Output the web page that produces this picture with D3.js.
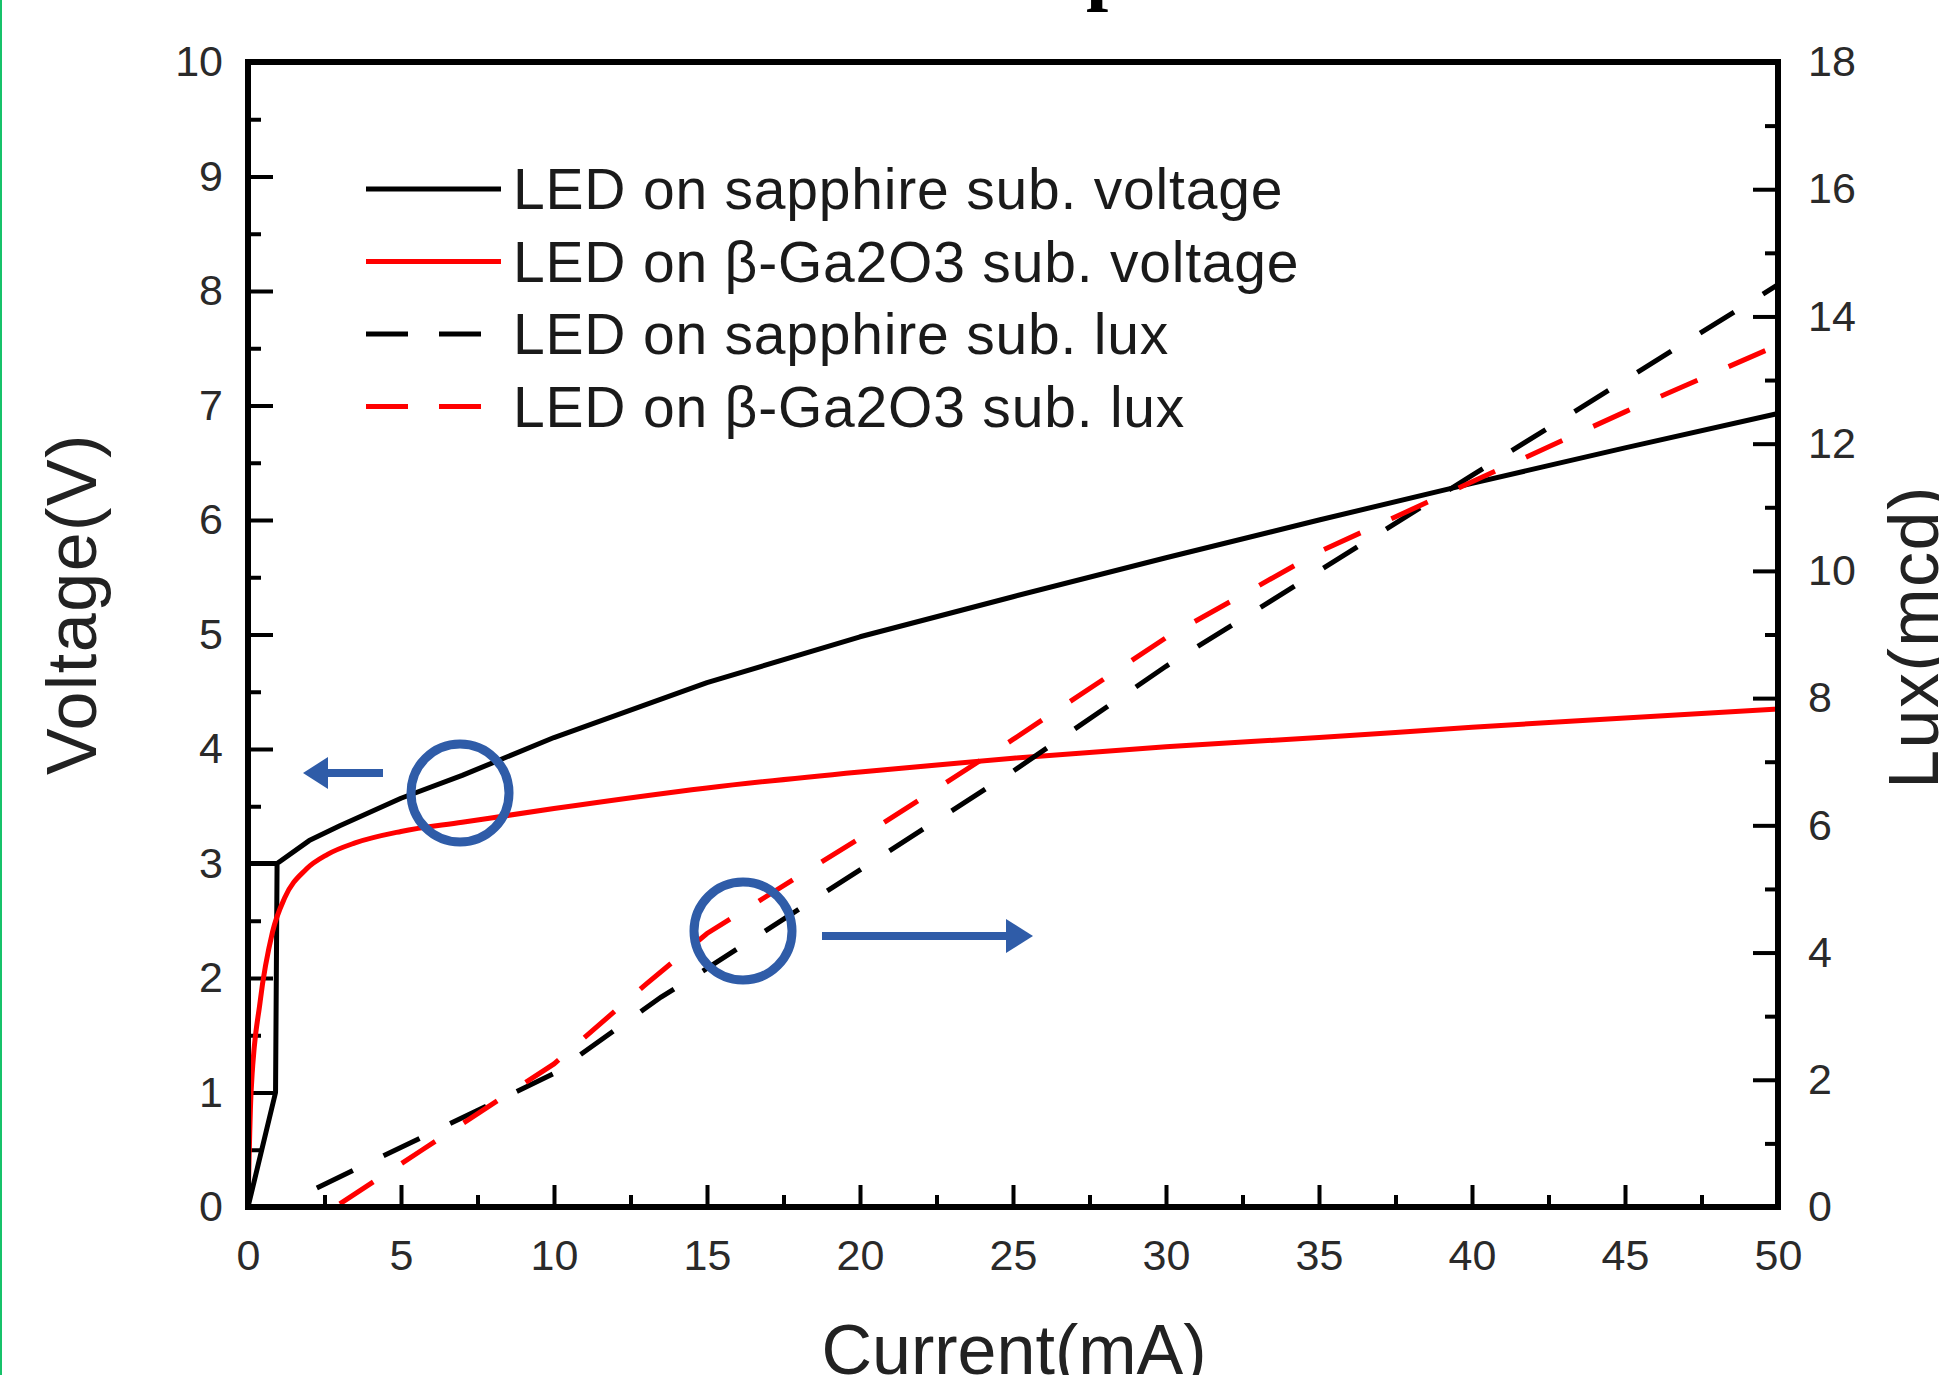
<!DOCTYPE html>
<html><head><meta charset="utf-8">
<script src="https://cdn.jsdelivr.net/npm/d3@7"></script>
<style>html,body{margin:0;padding:0;background:#fff;overflow:hidden}</style>
</head><body>
<svg id="chart" width="1939" height="1375"></svg>
<script>
// ---- data ----
const sapphireVoltageI = [0, 0.9, 0.95, 2, 3, 5, 7, 10, 15, 20, 25, 30, 35, 40, 45, 50];
const sapphireVoltageV = [0, 1.0, 3.0, 3.2, 3.33, 3.57, 3.77, 4.1, 4.58, 4.98, 5.33, 5.67, 6.0, 6.32, 6.63, 6.93];
const sapphireKneeI = [0, 0.95];
const sapphireKneeV = [3.0, 3.0];
const gaVoltageI = [0, 0.1, 0.4, 0.8, 1.2, 1.9, 2.6, 3.5, 5, 7, 10, 15, 20, 25, 30, 35, 40, 45, 50];
const gaVoltageV = [0, 1.0, 1.8, 2.4, 2.7, 2.95, 3.08, 3.18, 3.28, 3.36, 3.48, 3.66, 3.8, 3.92, 4.02, 4.1, 4.19, 4.27, 4.35];
const sapphireLuxI = [2.25, 5.7, 10, 13.5, 15, 20, 25, 30, 35, 40, 45, 50];
const sapphireLuxL = [0.3, 1.1, 2.1, 3.3, 3.75, 5.3, 6.85, 8.5, 10.0, 11.5, 13.0, 14.5];
const gaLuxI = [3.0, 5.7, 10, 13, 15, 20, 25, 30, 35, 40, 45, 50];
const gaLuxL = [0.05, 0.9, 2.25, 3.5, 4.3, 5.8, 7.35, 8.95, 10.3, 11.4, 12.5, 13.55];
const xTicks = [0, 5, 10, 15, 20, 25, 30, 35, 40, 45, 50];
const yLeftTicks = [0, 1, 2, 3, 4, 5, 6, 7, 8, 9, 10];
const yRightTicks = [0, 2, 4, 6, 8, 10, 12, 14, 16, 18];
const legendLabels = ["LED on sapphire sub. voltage", "LED on \u03b2-Ga2O3 sub. voltage", "LED on sapphire sub. lux", "LED on \u03b2-Ga2O3 sub. lux"];
const legendColors = ["#000", "#ff0000", "#000", "#ff0000"];
const legendDashed = [false, false, true, true];

// ---- layout ----
const L = 248, R = 1778, T = 62, B = 1207;
const svg = d3.select("#chart");
const x = d3.scaleLinear().domain([0, 50]).range([L, R]);
const yL = d3.scaleLinear().domain([0, 10]).range([B, T]);
const yR = d3.scaleLinear().domain([0, 18]).range([B, T]);
const FONT = "'Liberation Sans', Arial, sans-serif";

svg.append("rect").attr("x", 0).attr("y", 0).attr("width", 2).attr("height", 1375).attr("fill", "#17c26a");

// partial title glyph at top
svg.append("text").attr("x", 1086).attr("y", -5).attr("font-family", "'Liberation Serif', 'Times New Roman', serif")
  .attr("font-weight", "bold").attr("font-size", 80).attr("fill", "#000").text("p");

function styleAxis(g, fs) {
  g.select(".domain").remove();
  g.selectAll(".tick line").attr("stroke", "#000").attr("stroke-width", 4);
  g.selectAll(".tick text").attr("font-family", FONT).attr("font-size", fs).attr("fill", "#2a2a2a");
}
// left axis
const gl = svg.append("g").attr("transform", `translate(${L},0)`)
  .call(d3.axisLeft(yL).tickValues(yLeftTicks).tickSize(-25).tickPadding(25).tickFormat(d3.format("d")));
styleAxis(gl, 43);
const glm = svg.append("g").attr("transform", `translate(${L},0)`)
  .call(d3.axisLeft(yL).tickValues(d3.range(0.5, 10, 1)).tickSize(-13).tickFormat(""));
styleAxis(glm, 43);
// right axis
const gr = svg.append("g").attr("transform", `translate(${R},0)`)
  .call(d3.axisRight(yR).tickValues(yRightTicks).tickSize(-25).tickPadding(30).tickFormat(d3.format("d")));
styleAxis(gr, 43);
const grm = svg.append("g").attr("transform", `translate(${R},0)`)
  .call(d3.axisRight(yR).tickValues(d3.range(1, 18, 2)).tickSize(-13).tickFormat(""));
styleAxis(grm, 43);
// bottom axis
const gb = svg.append("g").attr("transform", `translate(0,${B})`)
  .call(d3.axisBottom(x).tickValues(xTicks).tickSize(-22).tickPadding(32).tickFormat(d3.format("d")));
styleAxis(gb, 43);
const gbm = svg.append("g").attr("transform", `translate(0,${B})`)
  .call(d3.axisBottom(x).tickValues(d3.range(2.5, 50, 5)).tickSize(-12).tickFormat(""));
styleAxis(gbm, 43);

// axis titles
svg.append("text").attr("transform", `translate(72,604) rotate(-90)`).attr("text-anchor", "middle")
  .attr("dominant-baseline", "central").attr("font-family", FONT).attr("font-size", 70).attr("letter-spacing", 1.5)
  .attr("fill", "#222").text("Voltage(V)");
svg.append("text").attr("transform", `translate(1914,637) rotate(-90)`).attr("text-anchor", "middle")
  .attr("dominant-baseline", "central").attr("font-family", FONT).attr("font-size", 70).attr("letter-spacing", 1.5)
  .attr("fill", "#222").text("Lux(mcd)");
svg.append("text").attr("x", 1014).attr("y", 1374).attr("text-anchor", "middle")
  .attr("font-family", FONT).attr("font-size", 70).attr("fill", "#222").text("Current(mA)");

// lines
const lineL = d3.line().x(d => x(d[0])).y(d => yL(d[1]));
const lineR = d3.line().x(d => x(d[0])).y(d => yR(d[1]));
const zip = (a, b) => a.map((v, i) => [v, b[i]]);
const plot = svg.append("g");
plot.append("path").datum(zip(sapphireKneeI, sapphireKneeV)).attr("d", lineL)
  .attr("fill", "none").attr("stroke", "#000").attr("stroke-width", 5);
plot.append("path").datum(zip(sapphireVoltageI, sapphireVoltageV)).attr("d", lineL)
  .attr("fill", "none").attr("stroke", "#000").attr("stroke-width", 5).attr("stroke-linejoin", "round");
plot.append("path").datum(zip(gaVoltageI, gaVoltageV)).attr("d", d3.line().curve(d3.curveMonotoneX).x(d => x(d[0])).y(d => yL(d[1])))
  .attr("fill", "none").attr("stroke", "#ff0000").attr("stroke-width", 5);
plot.append("path").datum(zip(sapphireLuxI, sapphireLuxL)).attr("d", lineR)
  .attr("fill", "none").attr("stroke", "#000").attr("stroke-width", 5).attr("stroke-dasharray", "40,34");
plot.append("path").datum(zip(gaLuxI, gaLuxL)).attr("d", lineR)
  .attr("fill", "none").attr("stroke", "#ff0000").attr("stroke-width", 5).attr("stroke-dasharray", "40,34");

// frame
svg.append("rect").attr("x", L).attr("y", T).attr("width", R - L).attr("height", B - T)
  .attr("fill", "none").attr("stroke", "#000").attr("stroke-width", 6);

// legend
const leg = svg.append("g");
legendLabels.forEach((lab, i) => {
  const yy = 189 + i * 72.5;
  leg.append("line").attr("x1", 366).attr("x2", legendDashed[i] ? 481 : 501).attr("y1", yy).attr("y2", yy)
    .attr("stroke", legendColors[i]).attr("stroke-width", 5).attr("stroke-dasharray", legendDashed[i] ? "42,31" : null);
  leg.append("text").attr("x", 513).attr("y", yy).attr("dominant-baseline", "central")
    .attr("font-family", FONT).attr("font-size", 57).attr("letter-spacing", 0.8).attr("fill", "#1a1a1a").text(lab);
});

// annotations
const blue = "#2f5ca8";
svg.append("circle").attr("cx", 460).attr("cy", 793).attr("r", 49).attr("fill", "none").attr("stroke", blue).attr("stroke-width", 9);
svg.append("circle").attr("cx", 743).attr("cy", 931).attr("r", 49).attr("fill", "none").attr("stroke", blue).attr("stroke-width", 9);
svg.append("line").attr("x1", 383).attr("x2", 325).attr("y1", 773).attr("y2", 773).attr("stroke", blue).attr("stroke-width", 8);
svg.append("path").attr("d", "M303,773 L328,757 L328,789 Z").attr("fill", blue);
svg.append("line").attr("x1", 822).attr("x2", 1010).attr("y1", 936).attr("y2", 936).attr("stroke", blue).attr("stroke-width", 8);
svg.append("path").attr("d", "M1033,936 L1006,919 L1006,953 Z").attr("fill", blue);
</script>
</body></html>
